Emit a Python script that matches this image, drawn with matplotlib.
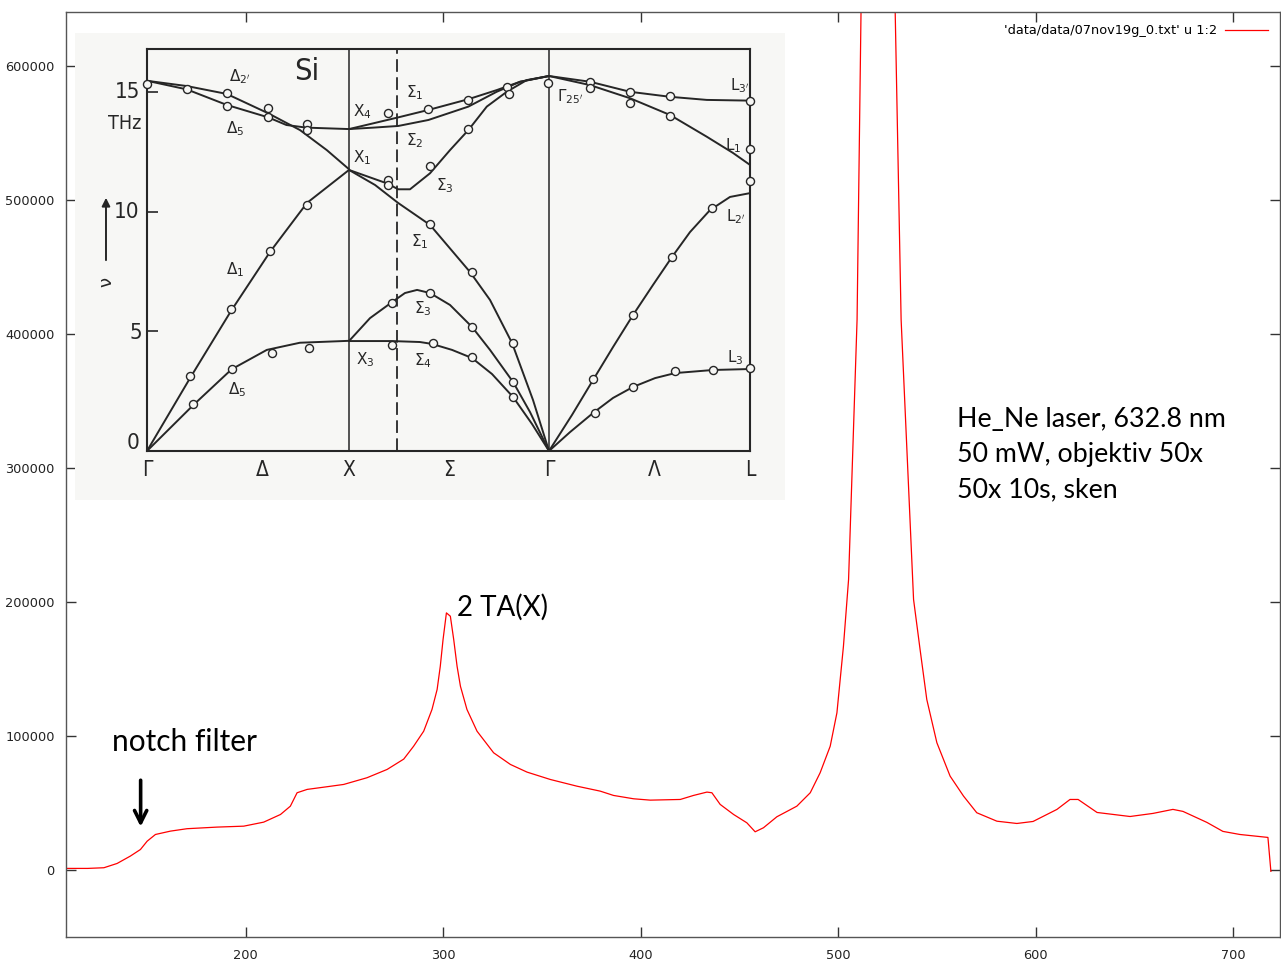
import matplotlib.pyplot as plt

# Raman spectrum of Si (cm-1, counts)
shift = [109.3, 120.0, 128.2, 134.9, 141.6, 146.7, 150.1, 154.3, 161.9, 170.3,
         185.5, 199.0, 209.1, 217.6, 222.6, 226.0, 231.1, 241.2, 249.6, 261.4,
         271.6, 280.0, 285.0, 290.1, 294.3, 296.9, 298.5, 299.9, 301.6, 303.6,
         305.3, 307.0, 308.7, 312.0, 317.1, 325.5, 334.0, 342.4, 354.2, 367.7,
         379.5, 386.2, 396.4, 404.8, 420.0, 426.7, 433.5, 436.0, 440.2, 447.0,
         453.7, 457.9, 462.1, 468.9, 479.0, 485.8, 490.8, 495.9, 499.3, 502.6,
         505.2, 509.5, 511.5, 513.0, 519.5, 526.5, 528.8, 531.8, 538.1, 541.4,
         544.8, 549.9, 556.6, 563.4, 570.1, 580.3, 590.4, 598.6, 610.7, 617.3,
         621.4, 631.0, 647.7, 659.3, 669.4, 674.5, 686.6, 694.7, 703.3, 717.5,
         719.0]
counts = [1500, 1500, 2000, 5200, 10700, 15600, 21800, 26800, 29300, 31100,
          32300, 33000, 36000, 41700, 47900, 57900, 60400, 62400, 64100, 69100,
          75300, 83000, 92600, 103800, 120000, 134900, 152200, 172100, 192000, 189500,
          172100, 152200, 137300, 120000, 103800, 87700, 79000, 73300, 67800, 62800,
          59100, 55900, 53400, 52400, 52900, 55900, 58400, 57900, 49200, 41700,
          35500, 28800, 31800, 40000, 47900, 57900, 72800, 92600, 117500, 167100,
          216900, 410600, 640100, 810000, 1300000, 820000, 640100, 410600, 202000, 164700,
          127400, 95200, 70300, 55400, 43000, 36700, 35000, 36500, 45500, 52900,
          52900, 43200, 40200, 42500, 45500, 44000, 35800, 29100, 26800, 24600,
          -700]

# inset: phonon dispersion of Si, q (Gamma-X = 1) and frequency (THz)
lo_delta_q = [0, 0.197, 0.395, 0.600, 0.757, 0.890, 1.0]
lo_delta_f = [15.49, 15.27, 14.94, 14.13, 13.43, 12.59, 11.79]
to_delta_q = [0, 0.197, 0.395, 0.600, 0.690, 0.789, 1.0]
to_delta_f = [15.49, 15.13, 14.48, 13.96, 13.64, 13.53, 13.47]
la_delta_q = [0, 0.213, 0.416, 0.609, 0.792, 1.0]
la_delta_f = [0, 3.05, 5.86, 8.33, 10.38, 11.76]
ta_delta_q = [0, 0.229, 0.419, 0.593, 0.757, 1.0]
ta_delta_f = [0, 1.92, 3.42, 4.23, 4.53, 4.61]

s1_opt_q = [1.0, 1.120, 1.244, 1.393, 1.591, 1.731, 1.847, 1.99]
s1_opt_f = [13.47, 13.71, 13.96, 14.27, 14.72, 15.10, 15.45, 15.69]
s2_opt_q = [1.0, 1.120, 1.244, 1.393, 1.591, 1.731, 1.847, 1.99]
s2_opt_f = [13.47, 13.53, 13.60, 13.85, 14.41, 15.03, 15.45, 15.69]
s3_opt_q = [1.0, 1.187, 1.244, 1.302, 1.401, 1.500, 1.591, 1.682, 1.781, 1.880, 1.99]
s3_opt_f = [11.76, 11.20, 10.95, 10.95, 11.62, 12.59, 13.43, 14.41, 15.03, 15.52, 15.69]
s1_ac_q = [1.0, 1.129, 1.243, 1.401, 1.599, 1.698, 1.807, 1.911, 1.99]
s1_ac_f = [11.76, 11.13, 10.38, 9.46, 7.49, 6.32, 4.52, 2.13, 0]
s3_ac_q = [1.0, 1.104, 1.213, 1.277, 1.337, 1.401, 1.50, 1.609, 1.698, 1.812, 1.896, 1.99]
s3_ac_f = [4.60, 5.56, 6.23, 6.61, 6.74, 6.61, 6.11, 5.19, 4.23, 2.89, 1.63, 0]
s4_ac_q = [1.0, 1.213, 1.351, 1.411, 1.510, 1.609, 1.708, 1.812, 1.906, 1.99]
s4_ac_f = [4.60, 4.60, 4.56, 4.48, 4.23, 3.89, 3.22, 2.26, 1.13, 0]

l3p_q = [1.99, 2.193, 2.391, 2.589, 2.771, 2.985]
l3p_f = [15.69, 15.45, 15.03, 14.82, 14.69, 14.66]
l1_q = [1.99, 2.193, 2.391, 2.589, 2.771, 2.901, 2.985]
l1_f = [15.69, 15.31, 14.76, 14.06, 13.15, 12.47, 11.97]
l2p_q = [1.99, 2.104, 2.208, 2.307, 2.406, 2.505, 2.599, 2.688, 2.787, 2.886, 2.985]
l2p_f = [0, 1.51, 2.97, 4.35, 5.69, 6.95, 8.12, 9.16, 10.08, 10.63, 10.79]
l3_q = [1.99, 2.094, 2.208, 2.307, 2.406, 2.515, 2.614, 2.802, 2.985]
l3_f = [0, 0.79, 1.59, 2.22, 2.68, 3.05, 3.26, 3.39, 3.43]

# measured points (open circles)
circle_q = [0.00, 0.20, 0.395, 0.395, 0.60, 0.60, 0.79, 0.79, 1.195, 1.393,
            1.59, 1.78, 1.79, 1.987, 2.193, 2.193, 2.391, 2.391, 2.589, 2.589,
            2.985, 2.985, 2.985, 2.796, 2.597, 2.407, 2.209, 2.218, 2.407, 2.614,
            2.803, 2.985, 1.591, 1.401, 1.195, 1.195, 1.401, 1.607, 1.81, 0.79,
            0.609, 0.416, 0.213, 0.229, 0.419, 0.617, 0.803, 1.211, 1.401, 1.607,
            1.813, 1.211, 1.414, 1.607, 1.813]
circle_f = [15.34, 15.13, 14.97, 14.44, 14.34, 13.96, 13.68, 13.43, 14.13, 14.30,
            14.69, 15.24, 14.94, 15.38, 15.45, 15.18, 15.01, 14.57, 14.85, 14.03,
            14.66, 12.62, 11.31, 10.15, 8.10, 5.69, 3.00, 1.58, 2.69, 3.36,
            3.39, 3.46, 13.46, 11.92, 11.34, 11.13, 9.50, 7.48, 4.51, 10.29,
            8.38, 5.93, 3.14, 1.97, 3.42, 4.11, 4.31, 6.21, 6.62, 5.18,
            2.90, 4.45, 4.51, 3.92, 2.27]

sym_q = [0, 0.569, 1.0, 1.495, 1.99, 2.51, 2.985]
sym_labels = ['Γ', 'Δ', 'X', 'Σ', 'Γ', 'Λ', 'L']

INK = '#262626'
PAPER = '#f7f7f5'

fig = plt.figure(figsize=(12.81, 9.64), dpi=100)
ax = fig.add_axes([0.0515, 0.0275, 0.9477, 0.9601])
ax.plot(shift, counts, color='#ff0000', lw=0.9,
        label="'data/data/07nov19g_0.txt' u 1:2")
ax.set_xlim(109, 723.6)
ax.set_ylim(-50000, 640000)
ax.set_xticks([200, 300, 400, 500, 600, 700])
ax.set_yticks([0, 100000, 200000, 300000, 400000, 500000, 600000])
ax.tick_params(direction='in', top=True, right=True, length=7, width=1,
               color='#333333', labelsize=9.3, labelcolor='#222222', pad=8)
for sp in ax.spines.values():
    sp.set_color('#555555')
    sp.set_linewidth(1.0)
ax.legend(loc='upper right', frameon=False, markerfirst=False, fontsize=9.3,
          handlelength=3.3, borderaxespad=0.55, handletextpad=0.6)

# annotations
txt_font = ['Lato', 'DejaVu Sans']
ax.text(132.5, 95400, 'notch filter', fontsize=21.5, family=txt_font,
        ha='left', va='center')
ax.annotate('', xy=(146.8, 30500), xytext=(146.8, 69300),
            arrowprops=dict(arrowstyle='->', lw=2.6, color='black',
                            mutation_scale=22))
ax.text(307.1, 196000, '2 TA(X)', fontsize=20, family=txt_font,
        ha='left', va='center')
ax.text(560.2, 310000, 'He_Ne laser, 632.8 nm\n50 mW, objektiv 50x\n50x 10s, sken',
        fontsize=19.3, family=txt_font, ha='left', va='center', linespacing=1.5)

# inset: scanned dispersion figure
bg = fig.add_axes([75 / 1281, 1 - 500 / 964, 710 / 1281, 467 / 964])
bg.set_facecolor(PAPER)
bg.set_xticks([])
bg.set_yticks([])
for sp in bg.spines.values():
    sp.set_visible(False)

ins = fig.add_axes([147 / 1281, 1 - 451 / 964, 603 / 1281, 402 / 964])
ins.set_facecolor('none')
ins.set_xlim(0, 2.985)
ins.set_ylim(0, 16.82)
ins.set_xticks([])
ins.set_yticks([5, 10, 15])
ins.set_yticklabels([])
ins.tick_params(axis='y', direction='in', length=8, width=1.2, color=INK)
for sp in ins.spines.values():
    sp.set_color(INK)
    sp.set_linewidth(1.5)

ins.axvline(1.0, color=INK, lw=1.1)
ins.axvline(1.99, color=INK, lw=1.1)
ins.axvline(1.24, color=INK, lw=1.3, dashes=(7, 3))

branches = [(lo_delta_q, lo_delta_f), (to_delta_q, to_delta_f),
            (la_delta_q, la_delta_f), (ta_delta_q, ta_delta_f),
            (s1_opt_q, s1_opt_f), (s2_opt_q, s2_opt_f), (s3_opt_q, s3_opt_f),
            (s1_ac_q, s1_ac_f), (s3_ac_q, s3_ac_f), (s4_ac_q, s4_ac_f),
            (l3p_q, l3p_f), (l1_q, l1_f), (l2p_q, l2p_f), (l3_q, l3_f)]
for q, f in branches:
    ins.plot(q, f, color=INK, lw=1.4, solid_capstyle='round')
ins.plot(circle_q, circle_f, 'o', ms=5.8, mfc=PAPER, mec=INK, mew=1.0,
         clip_on=False, zorder=3)

lab = dict(color=INK, fontsize=11, ha='center', va='center', clip_on=False)
ins.text(0.79, 15.86, 'Si', color=INK, fontsize=22, ha='center', va='center',
         fontstretch='condensed')
ins.text(0.46, 15.65, r"$\Delta_{2'}$", **lab)
ins.text(0.435, 13.5, r'$\Delta_5$', **lab)
ins.text(1.064, 14.18, r'$\mathrm{X}_4$', **lab)
ins.text(1.064, 12.26, r'$\mathrm{X}_1$', **lab)
ins.text(1.327, 14.98, r'$\Sigma_1$', **lab)
ins.text(1.327, 12.97, r'$\Sigma_2$', **lab)
ins.text(1.475, 11.09, r'$\Sigma_3$', **lab)
ins.text(1.351, 8.74, r'$\Sigma_1$', **lab)
ins.text(1.366, 5.94, r'$\Sigma_3$', **lab)
ins.text(1.366, 3.77, r'$\Sigma_4$', **lab)
ins.text(1.079, 3.81, r'$\mathrm{X}_3$', **lab)
ins.text(0.436, 7.57, r'$\Delta_1$', **lab)
ins.text(0.446, 2.55, r'$\Delta_5$', **lab)
ins.text(2.094, 14.81, r"$\Gamma_{25'}$", **lab)
ins.text(2.936, 15.27, r"$\mathrm{L}_{3'}$", **lab)
ins.text(2.90, 12.76, r'$\mathrm{L}_1$', **lab)
ins.text(2.916, 9.79, r"$\mathrm{L}_{2'}$", **lab)
ins.text(2.911, 3.89, r'$\mathrm{L}_3$', **lab)

num = dict(color=INK, fontsize=16, ha='right', va='center', clip_on=False,
           fontstretch='condensed')
ins.text(-0.035, 15.0, '15', **num)
ins.text(-0.035, 10.0, '10', **num)
ins.text(-0.025, 4.94, '5', **num)
ins.text(-0.035, 0.33, '0', **num)
ins.text(-0.11, 13.72, 'THz', color=INK, fontsize=14, ha='center', va='center',
         fontstretch='condensed')
ins.annotate('', xy=(-0.203, 10.71), xytext=(-0.203, 7.87),
             arrowprops=dict(arrowstyle='-|>', lw=1.4, color=INK,
                             mutation_scale=12),
             annotation_clip=False)
ins.text(-0.203, 7.07, 'ν', color=INK, fontsize=13, rotation=90,
         ha='center', va='center', clip_on=False)
for q, s in zip(sym_q, sym_labels):
    ins.text(q, -0.8, s, color=INK, fontsize=15, ha='center', va='center',
             clip_on=False, fontstretch='condensed')

fig.savefig('out.png', dpi=100)
